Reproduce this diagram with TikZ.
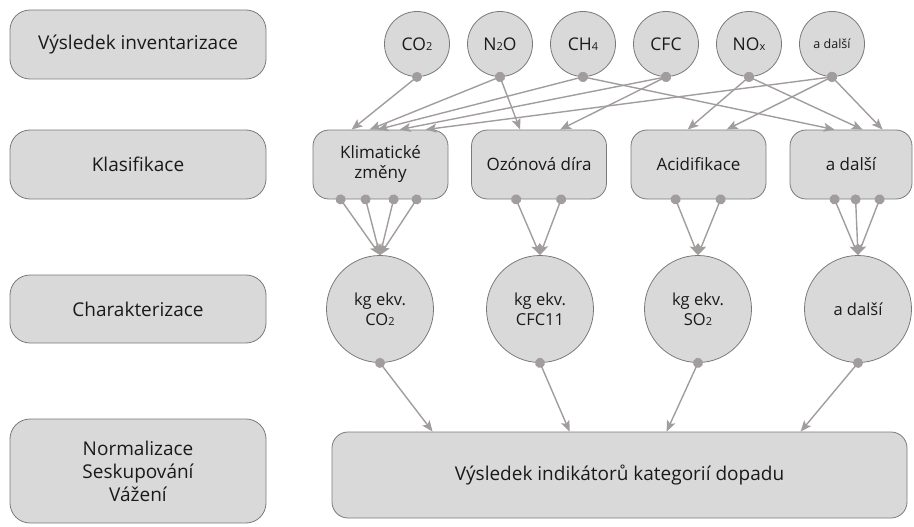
\documentclass[tikz,border=0pt]{standalone}
\usepackage{fontspec}
\setmainfont{Open Sans}
\usetikzlibrary{arrows.meta}
\definecolor{boxfill}{HTML}{D9D9D9}
\definecolor{boxline}{HTML}{7A7A7A}
\definecolor{linkgray}{HTML}{A29D9D}
\definecolor{ink}{HTML}{1A1A1A}
% small index digits, set on the baseline
\newcommand{\chemidx}[1]{{\fontsize{11}{11}\selectfont #1}}

\begin{document}
\begin{tikzpicture}[x=1pt,y=-1pt,
  every node/.style={text=ink, inner sep=0pt},
  shape base/.style={draw=boxline, fill=boxfill, line width=0.8pt, align=center},
  stage/.style={shape base, rectangle, rounded corners=20pt, minimum width=256pt,
                font=\fontsize{19}{23}\selectfont},
  flow/.style={shape base, rectangle, rounded corners=16pt, minimum width=135pt,
               minimum height=69pt, font=\fontsize{17}{20}\selectfont},
  substance/.style={shape base, circle, minimum size=65pt, font=\fontsize{17.5}{20}\selectfont},
  unit/.style={shape base, circle, minimum size=107pt, font=\fontsize{16.5}{20}\selectfont},
  link/.style={draw=linkgray, line width=1.4pt,
               {Circle[length=10pt, fill=linkgray]}-{Stealth[length=11pt, width=9pt, inset=2.5pt, fill=linkgray]},
               shorten <=-5pt}
]
\useasboundingbox (0,0) rectangle (914,527);

% stage labels on the left
\node[stage, minimum height=69pt]  (s1) at (138,44.5) {Výsledek inventarizace};
\node[stage, minimum height=69pt]  (s2) at (138,164.5) {Klasifikace};
\node[stage, minimum height=68pt]  (s3) at (138,309) {Charakterizace};
\node[stage, minimum height=104pt] (s4) at (138,471) {Normalizace\\Seskupování\\Vážení};

% inventory substances
\node[substance] (co2)  at (417,44) {CO\chemidx{2}};
\node[substance] (n2o)  at (500,44) {N\chemidx{2}O};
\node[substance] (ch4)  at (583,44) {CH\chemidx{4}};
\node[substance] (cfc)  at (666,44) {CFC};
\node[substance] (nox)  at (749,44) {NO\chemidx{x}};
\node[substance, font=\fontsize{12.5}{14}\selectfont] (more) at (832,44) {a další};

% impact categories
\node[flow] (klim)  at (380.5,164.5) {Klimatické\\změny};
\node[flow] (ozon)  at (539,164.5) {Ozónová díra};
\node[flow] (acid)  at (698.5,164.5) {Acidifikace};
\node[flow, minimum width=122pt] (dalsi) at (851,164.5) {a další};

% category indicators
\node[unit] (kco2) at (380,309) {kg ekv.\\CO\chemidx{2}};
\node[unit] (kcfc) at (540,309) {kg ekv.\\CFC11};
\node[unit] (kso2) at (698,309) {kg ekv.\\SO\chemidx{2}};
\node[unit] (kdal) at (858,309) {a další};

% result
\node[shape base, rectangle, rounded corners=16pt, minimum width=575pt, minimum height=86pt,
      font=\fontsize{19}{22}\selectfont] (result) at (619.5,475) {Výsledek indikátorů kategorií dopadu};

% classification links
\draw[link] (co2.south)  -- ([xshift=39pt]klim.north west);
\draw[link] (n2o.south)  -- ([xshift=57pt]klim.north west);
\draw[link] (n2o.south)  -- ([xshift=49pt]ozon.north west);
\draw[link] (ch4.south)  -- ([xshift=65pt]klim.north west);
\draw[link] (ch4.south)  -- ([xshift=45pt]dalsi.north west);
\draw[link] (cfc.south)  -- ([xshift=87pt]klim.north west);
\draw[link] (cfc.south)  -- ([xshift=89pt]ozon.north west);
\draw[link] (nox.south)  -- ([xshift=57pt]acid.north west);
\draw[link] (nox.south)  -- ([xshift=73pt]dalsi.north west);
\draw[link] (more.south) -- ([xshift=96pt]acid.north west);
\draw[link] (more.south) -- ([xshift=93pt]dalsi.north west);
\draw[link] (more.south) -- ([xshift=113pt]klim.north west);

% characterisation links
\foreach \dx in {28,53,81,104} \draw[link] ([xshift=\dx pt]klim.south west) -- (kco2.north);
\foreach \dx in {45,90}        \draw[link] ([xshift=\dx pt]ozon.south west) -- (kcfc.north);
\foreach \dx in {45,90}        \draw[link] ([xshift=\dx pt]acid.south west) -- (kso2.north);
\foreach \dx in {45,66,90}     \draw[link] ([xshift=\dx pt]dalsi.south west) -- (kdal.north);

% links to the result
\draw[link] (kco2.south) -- ([xshift=101pt]result.north west);
\draw[link] (kcfc.south) -- ([xshift=238pt]result.north west);
\draw[link] (kso2.south) -- ([xshift=335pt]result.north west);
\draw[link] (kdal.south) -- ([xshift=469pt]result.north west);
\end{tikzpicture}
\end{document}
